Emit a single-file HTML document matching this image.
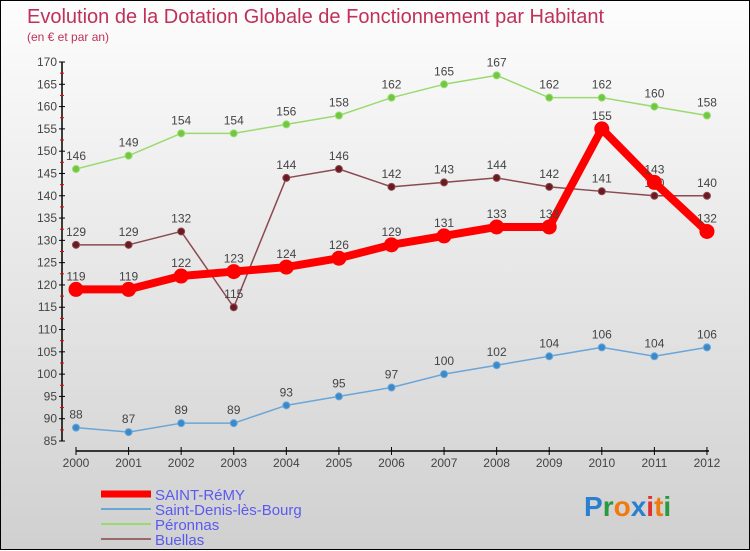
<!DOCTYPE html>
<html><head><meta charset="utf-8"><style>
body{margin:0;width:750px;height:550px;overflow:hidden;font-family:"Liberation Sans",sans-serif}
#wrap{position:relative;width:748px;height:548px;border:1px solid #000;background:linear-gradient(#fdfdfd,#d0d0d0)}
svg{position:absolute;left:0;top:0}
</style></head><body>
<div id="wrap">
<svg id="chart" width="750" height="550">
<text x="26" y="22" font-size="20" fill="#c0305a">Evolution de la Dotation Globale de Fonctionnement par Habitant</text>
<text x="26" y="40" font-size="12" fill="#c0305a">(en € et par an)</text>
<g id="axes"></g><g id="series"></g><g id="legend"></g>
<text x="583" y="515" font-size="28" font-weight="bold"><tspan fill="#2a7fd0">P</tspan><tspan fill="#2a9a40">r</tspan><tspan fill="#f07a10">o</tspan><tspan fill="#2a7fd0">x</tspan><tspan fill="#e03030">i</tspan><tspan fill="#f07a10">t</tspan><tspan fill="#2a9a40">i</tspan></text>
</svg></div>
<script>
const years=[2000,2001,2002,2003,2004,2005,2006,2007,2008,2009,2010,2011,2012];
const yTicks=[85,90,95,100,105,110,115,120,125,130,135,140,145,150,155,160,165,170];
const saintRemy=[119,119,122,123,124,126,129,131,133,133,155,143,132];
const saintDenis=[88,87,89,89,93,95,97,100,102,104,106,104,106];
const peronnas=[146,149,154,154,156,158,162,165,167,162,162,160,158];
const buellas=[129,129,132,115,144,146,142,143,144,142,141,140,140];
const NS="http://www.w3.org/2000/svg";
const x=i=>75+i*52.58, y=v=>61+(170-v)*4.459;
function mk(tag,at,par){const e=document.createElementNS(NS,tag);for(const k in at)e.setAttribute(k,at[k]);par.appendChild(e);return e;}
const ax=document.getElementById('axes');
let a=mk('line',{x1:61,y1:61,x2:61,y2:440,stroke:'#000','stroke-width':1.5},ax);


yTicks.forEach(v=>{
  mk('line',{x1:58,x2:64,y1:y(v),y2:y(v),stroke:'#000'},ax);
  if(v<170) mk('line',{x1:59,x2:63,y1:y(v+2.5),y2:y(v+2.5),stroke:'#e00'},ax);
  const t=mk('text',{x:56,y:y(v)+4,'font-size':12,fill:'#444','text-anchor':'end'},ax);t.textContent=v;
  
  
});
a=mk('line',{x1:75,y1:450,x2:708,y2:450,stroke:'#000','stroke-width':1.5},ax);


years.forEach((yr,i)=>{
  mk('line',{x1:x(i),x2:x(i),y1:446,y2:454,stroke:'#000'},ax);
  const t=mk('text',{x:x(i),y:466,'font-size':12,fill:'#444','text-anchor':'middle'},ax);t.textContent=yr;
  
  
});
const sg=document.getElementById('series');
function series(data,color,lw,r,dot,name){
  const g=mk('g',{},sg);
  
  
  mk('polyline',{points:data.map((v,i)=>x(i)+','+y(v)).join(' '),fill:'none',stroke:color,'stroke-width':lw,'stroke-linejoin':'round'},g);
  data.forEach((v,i)=>{
    const c=mk('circle',{cx:x(i),cy:y(v),r:r,fill:dot,stroke:color,'stroke-width':1},g);
    
    
    const t=mk('text',{x:x(i),y:y(v)-9,'font-size':12,fill:'#444','text-anchor':'middle'},g);t.textContent=v;
    
    
  });
}
series(saintDenis,'#6aa6d8',1.5,3.5,'#3a8acb','saint-denis-series');
series(peronnas,'#9ada70',1.5,3.5,'#70c840','peronnas-series');
series(buellas,'#8a4a50',1.5,3.5,'#6a1a20','buellas-series');
series(saintRemy,'#f00',8,7,'#f00','saint-remy-series');
const lg=document.getElementById('legend');
const items=[['SAINT-RéMY','#f00',7],['Saint-Denis-lès-Bourg','#6aa6d8',2],['Péronnas','#9ada70',2],['Buellas','#9a6a6a',2]];
items.forEach((it,k)=>{
  const yy=493+k*15;
  const l=mk('line',{x1:100,x2:150,y1:yy,y2:yy,stroke:it[1],'stroke-width':it[2]},lg);
  
  
  const t=mk('text',{x:154,y:yy+6,'font-size':15,fill:'#5a5af0'},lg);t.textContent=it[0];
  
  
});
</script>
</body></html>
